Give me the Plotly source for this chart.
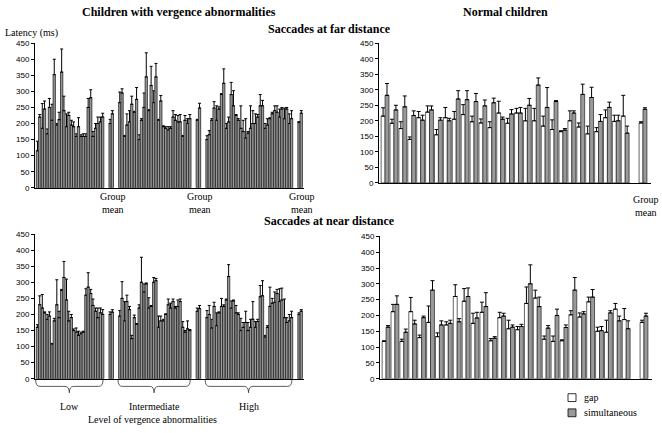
import numpy as np
import plotly.graph_objects as go

# ---------------- DATA ----------------
# Children with vergence abnormalities, far distance (Low / Intermediate / High groups)
far_low_gap = [115, 185, 168, 210, 195, 360, 190, 195, 160, 160, 160, 280, 185, 205]
far_low_gap_err = [30, 77, 15, 50, 5, 72, 40, 15, 8, 5, 8, 25, 15, 15]
far_low_sim = [220, 245, 250, 352, 212, 240, 225, 190, 190, 160, 250, 160, 200, 220]
far_low_sim_err = [8, 25, 28, 48, 23, 45, 10, 15, 28, 8, 28, 15, 20, 12]

far_int_gap = [265, 160, 205, 235, 150, 250, 240, 265, 210, 190, 180, 220, 205, 160, 200]
far_int_gap_err = [33, 3, 35, 3, 15, 45, 3, 37, 3, 3, 10, 20, 20, 3, 15]
far_int_sim = [295, 195, 260, 275, 210, 345, 318, 345, 270, 185, 185, 210, 205, 210, 215]
far_int_sim_err = [13, 35, 25, 37, 5, 75, 60, 42, 17, 5, 5, 18, 23, 15, 13]

far_high_gap = [150, 210, 210, 290, 185, 290, 225, 185, 155, 185, 200, 255, 185, 215, 240, 220, 215, 200]
far_high_gap_err = [12, 5, 45, 3, 15, 38, 3, 70, 60, 70, 30, 35, 15, 3, 15, 25, 33, 30]
far_high_sim = [165, 248, 245, 325, 205, 255, 210, 175, 170, 200, 220, 255, 195, 230, 235, 245, 245, 215]
far_high_sim_err = [13, 20, 7, 45, 15, 47, 5, 35, 5, 40, 8, 17, 20, 5, 20, 5, 5, 25]

# group means (Low, Intermediate, High), far
far_mean_gap = [200, 210, 203]
far_mean_gap_err = [13, 3, 3]
far_mean_sim = [230, 248, 232]
far_mean_sim_err = [10, 15, 8]

# Children with vergence abnormalities, near distance
near_low_gap = [160, 220, 185, 108, 230, 275, 245, 190, 145, 140, 260, 265, 210, 205]
near_low_gap_err = [8, 42, 15, 2, 78, 3, 65, 10, 13, 5, 20, 13, 10, 15]
near_low_sim = [230, 205, 195, 180, 190, 315, 180, 150, 135, 145, 285, 228, 190, 200]
near_low_sim_err = [28, 3, 13, 8, 20, 50, 30, 5, 13, 3, 45, 20, 30, 15]

near_int_gap = [195, 180, 215, 190, 220, 270, 220, 300, 160, 180, 230, 240, 225, 160, 155]
near_int_gap_err = [17, 60, 10, 8, 10, 25, 32, 15, 35, 5, 18, 8, 20, 18, 25]
near_int_sim = [250, 240, 125, 170, 300, 295, 225, 305, 180, 200, 220, 220, 240, 145, 150]
near_int_sim_err = [52, 20, 10, 2, 78, 3, 3, 7, 15, 2, 15, 5, 8, 5, 3]

near_high_gap = [190, 158, 165, 225, 245, 220, 205, 150, 175, 160, 160, 255, 130, 225, 238, 240, 190, 180]
near_high_gap_err = [22, 27, 40, 25, 3, 22, 23, 38, 35, 25, 18, 35, 5, 60, 32, 40, 58, 20]
near_high_sim = [200, 225, 205, 225, 318, 242, 200, 160, 150, 185, 178, 258, 160, 235, 265, 245, 175, 190]
near_high_sim_err = [28, 13, 3, 5, 37, 3, 5, 15, 25, 55, 7, 47, 5, 15, 13, 37, 15, 20]

near_mean_gap = [200, 210, 200]
near_mean_gap_err = [8, 10, 5]
near_mean_sim = [207, 218, 210]
near_mean_sim_err = [8, 10, 5]

# Normal children, far distance
norm_far_gap = [215, 192, 175, 140, 210, 228, 155, 210, 205, 220, 197, 193, 178, 225, 192, 225,
                200, 200, 183, 172, 165, 200, 180, 158, 165, 210, 198, 215]
norm_far_gap_err = [27, 13, 22, 8, 20, 20, 17, 33, 25, 32, 18, 13, 19, 38, 16, 15,
                    40, 40, 32, 31, 3, 32, 13, 25, 13, 25, 20, 67]
norm_far_sim = [282, 235, 245, 217, 202, 235, 202, 200, 270, 268, 262, 248, 258, 205, 222, 225,
                250, 315, 243, 262, 170, 225, 285, 275, 198, 243, 200, 160]
norm_far_sim_err = [38, 15, 35, 15, 16, 13, 8, 8, 27, 29, 26, 19, 15, 7, 14, 18,
                    22, 23, 64, 3, 5, 7, 33, 33, 22, 17, 18, 23]
norm_far_mean = [193, 237]
norm_far_mean_err = [4, 5]

# Normal children, near distance
norm_near_gap = [118, 212, 118, 212, 130, 178, 133, 170, 260, 245, 175, 210, 120, 193, 158, 155,
                 238, 255, 125, 118, 120, 202, 195, 243, 150, 147, 220, 187]
norm_near_gap_err = [2, 23, 7, 45, 8, 52, 12, 10, 37, 40, 32, 32, 7, 17, 27, 10,
                     52, 25, 10, 17, 3, 13, 13, 15, 13, 38, 18, 35]
norm_near_sim = [163, 235, 147, 173, 193, 280, 170, 175, 180, 260, 192, 228, 128, 198, 163, 165,
                 300, 228, 160, 200, 162, 280, 205, 258, 152, 208, 183, 158]
norm_near_sim_err = [5, 27, 10, 12, 5, 30, 13, 10, 10, 27, 18, 44, 5, 9, 7, 7,
                     60, 30, 8, 20, 8, 40, 7, 24, 13, 7, 15, 25]
norm_near_mean = [178, 198]
norm_near_mean_err = [7, 9]

y_ticks = [0, 50, 100, 150, 200, 250, 300, 350, 400, 450]
group_names = ["Low", "Intermediate", "High"]

# ---------------- STYLE / LAYOUT HELPERS ----------------
W, H = 662, 433
SERIF = "Liberation Serif, Times New Roman, serif"
SANS = "Liberation Sans, Arial, sans-serif"
GRAY = "#9a9a9a"
EDGE = "#222222"


def px_x(p):
    return p / W


def px_y(p):
    return 1 - p / H


def group_positions(groups):
    """positions of subjects and group means along x (slot units)"""
    pos, mean_pos, spans = [], [], []
    start = 0
    for g in groups:
        n = len(g)
        p = list(range(start, start + n))
        pos.extend(p)
        spans.append((p[0], p[-1]))
        mean_pos.append(start + n + 1)
        start = start + n + 3
    return pos, mean_pos, spans


fig = go.Figure()


def add_pair(xs, gap, gap_err, sim, sim_err, xa, ya, gap_color, bw, cap, edge_w):
    n = len(xs)
    fig.add_trace(go.Bar(x=xs, y=gap, width=[bw] * n, offset=[-bw] * n,
                         marker=dict(color=gap_color, line=dict(color=EDGE, width=edge_w)),
                         error_y=dict(type="data", array=gap_err, arrayminus=[0] * n,
                                      symmetric=False, color="black", thickness=1, width=cap),
                         xaxis=xa, yaxis=ya, showlegend=False, name="gap"))
    fig.add_trace(go.Bar(x=xs, y=sim, width=[bw] * n, offset=[0] * n,
                         marker=dict(color=GRAY, line=dict(color=EDGE, width=edge_w)),
                         error_y=dict(type="data", array=sim_err, arrayminus=[0] * n,
                                      symmetric=False, color="black", thickness=1, width=cap),
                         xaxis=xa, yaxis=ya, showlegend=False, name="simultaneous"))


# ---- left panels (vergence abnormalities) ----
far_groups = [far_low_gap, far_int_gap, far_high_gap]
pos_f, mean_f, spans_f = group_positions(far_groups)
add_pair(pos_f, far_low_gap + far_int_gap + far_high_gap,
         far_low_gap_err + far_int_gap_err + far_high_gap_err,
         far_low_sim + far_int_sim + far_high_sim,
         far_low_sim_err + far_int_sim_err + far_high_sim_err, "x", "y", GRAY, 0.47, 1.5, 0.8)
add_pair(mean_f, far_mean_gap, far_mean_gap_err, far_mean_sim, far_mean_sim_err,
         "x", "y", GRAY, 0.47, 1.5, 0.8)

near_groups = [near_low_gap, near_int_gap, near_high_gap]
pos_n, mean_n, spans_n = group_positions(near_groups)
add_pair(pos_n, near_low_gap + near_int_gap + near_high_gap,
         near_low_gap_err + near_int_gap_err + near_high_gap_err,
         near_low_sim + near_int_sim + near_high_sim,
         near_low_sim_err + near_int_sim_err + near_high_sim_err, "x3", "y3", GRAY, 0.47, 1.5, 0.8)
add_pair(mean_n, near_mean_gap, near_mean_gap_err, near_mean_sim, near_mean_sim_err,
         "x3", "y3", GRAY, 0.47, 1.5, 0.8)

# ---- right panels (normal children) ----
n_norm = len(norm_far_gap)
pos_r = list(range(n_norm))
mean_r = n_norm + 1
add_pair(pos_r + [mean_r], norm_far_gap + norm_far_mean[:1], norm_far_gap_err + norm_far_mean_err[:1],
         norm_far_sim + norm_far_mean[1:], norm_far_sim_err + norm_far_mean_err[1:],
         "x2", "y2", "white", 0.44, 2, 0.7)
add_pair(pos_r + [mean_r], norm_near_gap + norm_near_mean[:1], norm_near_gap_err + norm_near_mean_err[:1],
         norm_near_sim + norm_near_mean[1:], norm_near_sim_err + norm_near_mean_err[1:],
         "x4", "y4", "white", 0.44, 2, 0.7)

left_range = [-0.74, mean_f[-1] + 0.8]
right_range = [-0.68, mean_r + 0.9]

xcommon = dict(showgrid=False, zeroline=False, showticklabels=False, ticks="",
               showline=True, linecolor="black", linewidth=1)
ycommon = dict(range=[0, 450], tickvals=y_ticks, showgrid=False, zeroline=False,
               showline=True, linecolor="black", linewidth=1, ticks="outside", ticklen=3,
               tickcolor="black", tickfont=dict(family=SANS, size=8, color="black"))

fig.update_layout(
    width=W, height=H, margin=dict(l=0, r=0, t=0, b=0),
    paper_bgcolor="white", plot_bgcolor="white", barmode="overlay",
    showlegend=False,
    xaxis=dict(domain=[px_x(35), px_x(304)], range=left_range, anchor="y", **xcommon),
    yaxis=dict(domain=[px_y(187.7), px_y(40)], anchor="x", **ycommon),
    xaxis2=dict(domain=[px_x(379), px_x(651)], range=right_range, anchor="y2", **xcommon),
    yaxis2=dict(domain=[px_y(182.7), px_y(40)], anchor="x2", **ycommon),
    xaxis3=dict(domain=[px_x(35), px_x(304)], range=left_range, anchor="y3", **xcommon),
    yaxis3=dict(domain=[px_y(382.7), px_y(235)], anchor="x3", **ycommon),
    xaxis4=dict(domain=[px_x(380), px_x(652)], range=right_range, anchor="y4", **xcommon),
    yaxis4=dict(domain=[px_y(382.7), px_y(237.3)], anchor="x4", **ycommon),
)

ann = []


def txt(x, y, s, size=10, bold=False, xanchor="center", xref="paper", yref="paper"):
    ann.append(dict(x=x, y=y, xref=xref, yref=yref, text=("<b>%s</b>" % s) if bold else s,
                    showarrow=False, xanchor=xanchor, yanchor="middle",
                    font=dict(family=SERIF, size=size, color="black")))


txt(px_x(179), px_y(8.5), "Children with vergence abnormalities", 12, True)
txt(px_x(505), px_y(8.5), "Normal children", 12, True)
txt(px_x(329), px_y(26), "Saccades at far distance", 12, True)
txt(px_x(329), px_y(222), "Saccades at near distance", 12, True)
txt(px_x(3), px_y(30), "Latency (ms)", 10, False, xanchor="left")
for m in mean_f:
    txt(m + 0.4, px_y(203), "Group<br>mean", 10, xref="x")
txt(mean_r + 0.3, px_y(206.5), "Group<br>mean", 10, xref="x2")

# braces and group labels under the near-distance vergence panel
shapes = []
y_top, y_mid, y_tip = px_y(384), px_y(390.5), px_y(397)
for (a, b), name in zip(spans_n, group_names):
    x0, x1 = a - 0.6, b + 0.3
    xc = (x0 + x1) / 2
    d = 0.9
    path = (f"M {x0},{y_top} Q {x0},{y_mid} {x0 + d},{y_mid} L {xc - d},{y_mid} "
            f"Q {xc},{y_mid} {xc},{y_tip} Q {xc},{y_mid} {xc + d},{y_mid} "
            f"L {x1 - d},{y_mid} Q {x1},{y_mid} {x1},{y_top}")
    shapes.append(dict(type="path", path=path, xref="x3", yref="paper",
                       line=dict(color="#333333", width=0.8)))
    txt(xc, px_y(411), name, 10, xref="x3")
txt(px_x(152), px_y(424.5), "Level of vergence abnormalities", 10)

# legend (gap / simultaneous)
for yc, fill, label in [(402, "white", "gap"), (417.5, GRAY, "simultaneous")]:
    shapes.append(dict(type="rect", xref="paper", yref="paper",
                       x0=px_x(568), x1=px_x(576), y0=px_y(yc + 4), y1=px_y(yc - 4),
                       fillcolor=fill, line=dict(color="black", width=0.8)))
    txt(px_x(582), px_y(yc), label, 10, xanchor="left")

fig.update_layout(annotations=ann, shapes=shapes)
fig.write_html("out.html", config={"displayModeBar": False},
               post_script="document.body.style.margin='0px';")
